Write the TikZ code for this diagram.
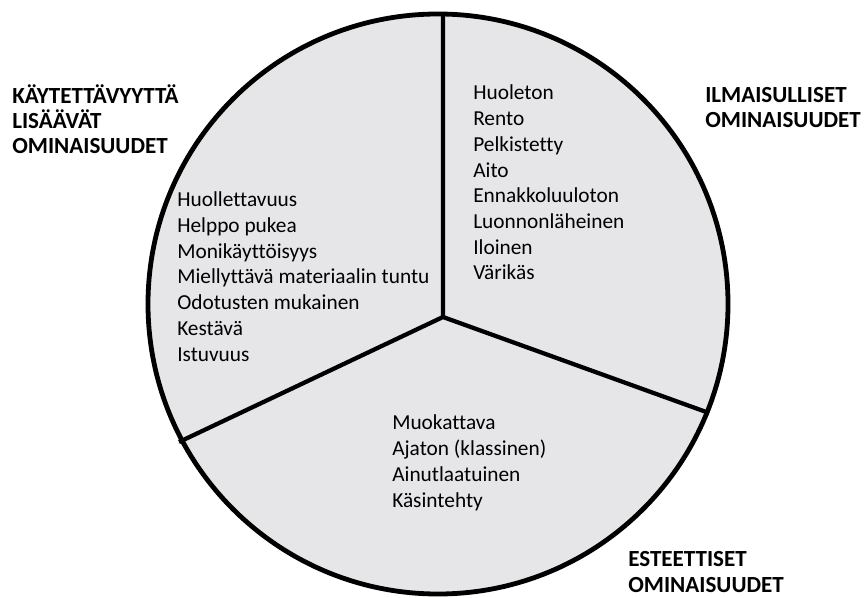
\documentclass[tikz,border=0pt]{standalone}
\usepackage{fontspec}
\setmainfont{Carlito}[Ligatures=NoCommon]
\usetikzlibrary{positioning}
\definecolor{sectorgray}{RGB}{230,229,231}
\tikzset{
  pielist/.style={anchor=base west, inner sep=0pt, align=left,
    font=\fontsize{16}{19.3}\selectfont},
  pielabel/.style={anchor=base west, inner sep=0pt, align=left,
    font=\fontsize{17.3}{18.8}\selectfont\bfseries},
}

\begin{document}
\begin{tikzpicture}[x=0.75pt,y=-0.75pt]
  \useasboundingbox (0,0) rectangle (866,598);

  % pie and its three sectors
  \coordinate (mid) at (438,304);
  \coordinate (hub) at (443,317);
  \coordinate (rimtop) at (443,14);
  \coordinate (rimright) at (709,413);
  \coordinate (rimleft) at (179,442);
  \draw[line width=3.6pt, fill=sectorgray] (mid) circle[radius=290];
  \draw[line width=3.2pt] (hub) -- (rimtop) (hub) -- (rimright) (hub) -- (rimleft);

  % sector texts (anchored at the baseline of the last line)
  \node[pielist] (kaytlist) at (177,361) {Huollettavuus\\Helppo pukea\\Monikäyttöisyys\\Miellyttävä materiaalin tuntu\\Odotusten mukainen\\Kestävä\\Istuvuus};
  \node[pielist] (ilmalist) at (473,280) {Huoleton\\Rento\\Pelkistetty\\Aito\\Ennakkoluuloton\\Luonnonläheinen\\Iloinen\\Värikäs};
  \node[pielist] (estelist) at (392,507) {Muokattava\\Ajaton (klassinen)\\Ainutlaatuinen\\Käsintehty};

  % headings
  \node[pielabel] (kayt) at (12,154) {KÄYTETTÄVYYTTÄ\\LISÄÄVÄT\\OMINAISUUDET};
  \node[pielabel] (ilma) at (705,128) {ILMAISULLISET\\OMINAISUUDET};
  \node[pielabel] (este) at (628,592) {ESTEETTISET\\OMINAISUUDET};
\end{tikzpicture}
\end{document}
